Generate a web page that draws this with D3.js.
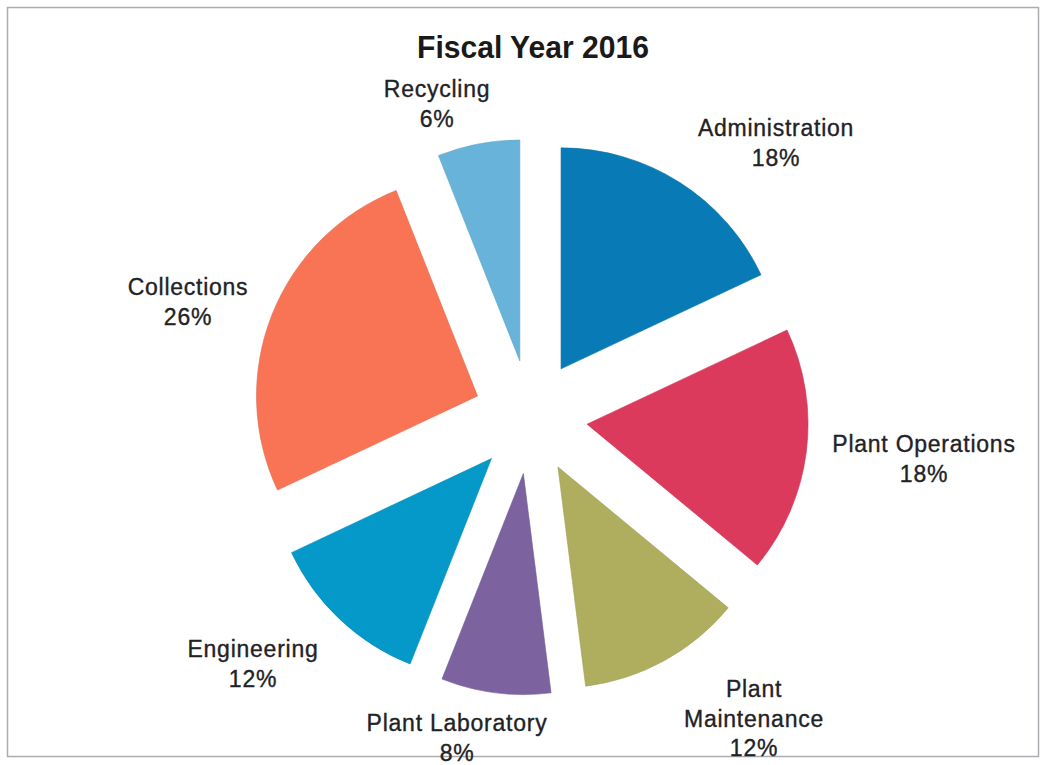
<!DOCTYPE html>
<html>
<head>
<meta charset="utf-8">
<script src="https://cdn.jsdelivr.net/npm/d3@7"></script>
<style>
  html, body { margin: 0; padding: 0; background: #ffffff; }
  svg { display: block; }
  text { font-family: "Liberation Sans", Arial, sans-serif; fill: #222226; }
</style>
</head>
<body>
<svg id="chart" width="1044" height="765"></svg>
<script>
// Budget share by division, clockwise from 12 o'clock
const categories = ["Administration", "Plant Operations", "Plant Maintenance", "Plant Laboratory", "Engineering", "Collections", "Recycling"];
const shares = [18, 18, 12, 8, 12, 26, 6];
const colors = ["#087bb6", "#dc3a5c", "#afae5e", "#7c63a0", "#0599c9", "#f87455", "#67b3da"];
const labelLines = [["Administration"], ["Plant Operations"], ["Plant", "Maintenance"], ["Plant Laboratory"], ["Engineering"], ["Collections"], ["Recycling"]];
const title = "Fiscal Year 2016";

const svg = d3.select("#chart");

// Frame
svg.append("rect")
  .attr("x", 7.5).attr("y", 7.5)
  .attr("width", 1031).attr("height", 749)
  .attr("fill", "#ffffff")
  .attr("stroke", "#a9adb2").attr("stroke-width", 1.5);

// Title
svg.append("text")
  .attr("x", 533).attr("y", 58)
  .attr("text-anchor", "middle")
  .attr("font-size", 32).attr("font-weight", "bold")
  .attr("textLength", 232).attr("lengthAdjust", "spacingAndGlyphs")
  .style("fill", "#1a1a1a")
  .text(title);

// Exploded pie
const cx = 530.5, cy = 417, radius = 221, explode = 57;
const data = categories.map((c, i) => ({ name: c, value: shares[i], color: colors[i], lines: labelLines[i] }));
const pie = d3.pie().sort(null).value(d => d.value).startAngle(0).endAngle(2 * Math.PI);
const arc = d3.arc().innerRadius(0).outerRadius(radius);
const arcs = pie(data);

const g = svg.append("g").attr("transform", `translate(${cx},${cy})`);
g.selectAll("path.slice")
  .data(arcs)
  .join("path")
  .attr("class", "slice")
  .attr("transform", d => {
    const a = (d.startAngle + d.endAngle) / 2;
    return `translate(${explode * Math.sin(a)},${-explode * Math.cos(a)})`;
  })
  .attr("d", arc)
  .attr("fill", d => d.data.color)
  .attr("stroke", d => d3.color(d.data.color).darker(0.25))
  .attr("stroke-width", 0.6);

// Label anchors (centre x, first baseline y)
const labelPos = {
  "Administration": [776, 136],
  "Plant Operations": [924, 452],
  "Plant Maintenance": [754, 697],
  "Plant Laboratory": [457, 731],
  "Engineering": [253, 657],
  "Collections": [188, 295],
  "Recycling": [437, 97]
};
const lineH = 29.5;

const labels = svg.append("g");
arcs.forEach(d => {
  const [x, y] = labelPos[d.data.name];
  const t = labels.append("text")
    .attr("text-anchor", "middle")
    .attr("font-size", 23)
    .attr("letter-spacing", "0.75px")
    .style("stroke", "#222226")
    .style("stroke-width", 0.35);
  const lines = d.data.lines.concat([d.data.value + "%"]);
  lines.forEach((ln, k) => {
    t.append("tspan").attr("x", x).attr("y", y + k * lineH).text(ln);
  });
});
</script>
</body>
</html>
